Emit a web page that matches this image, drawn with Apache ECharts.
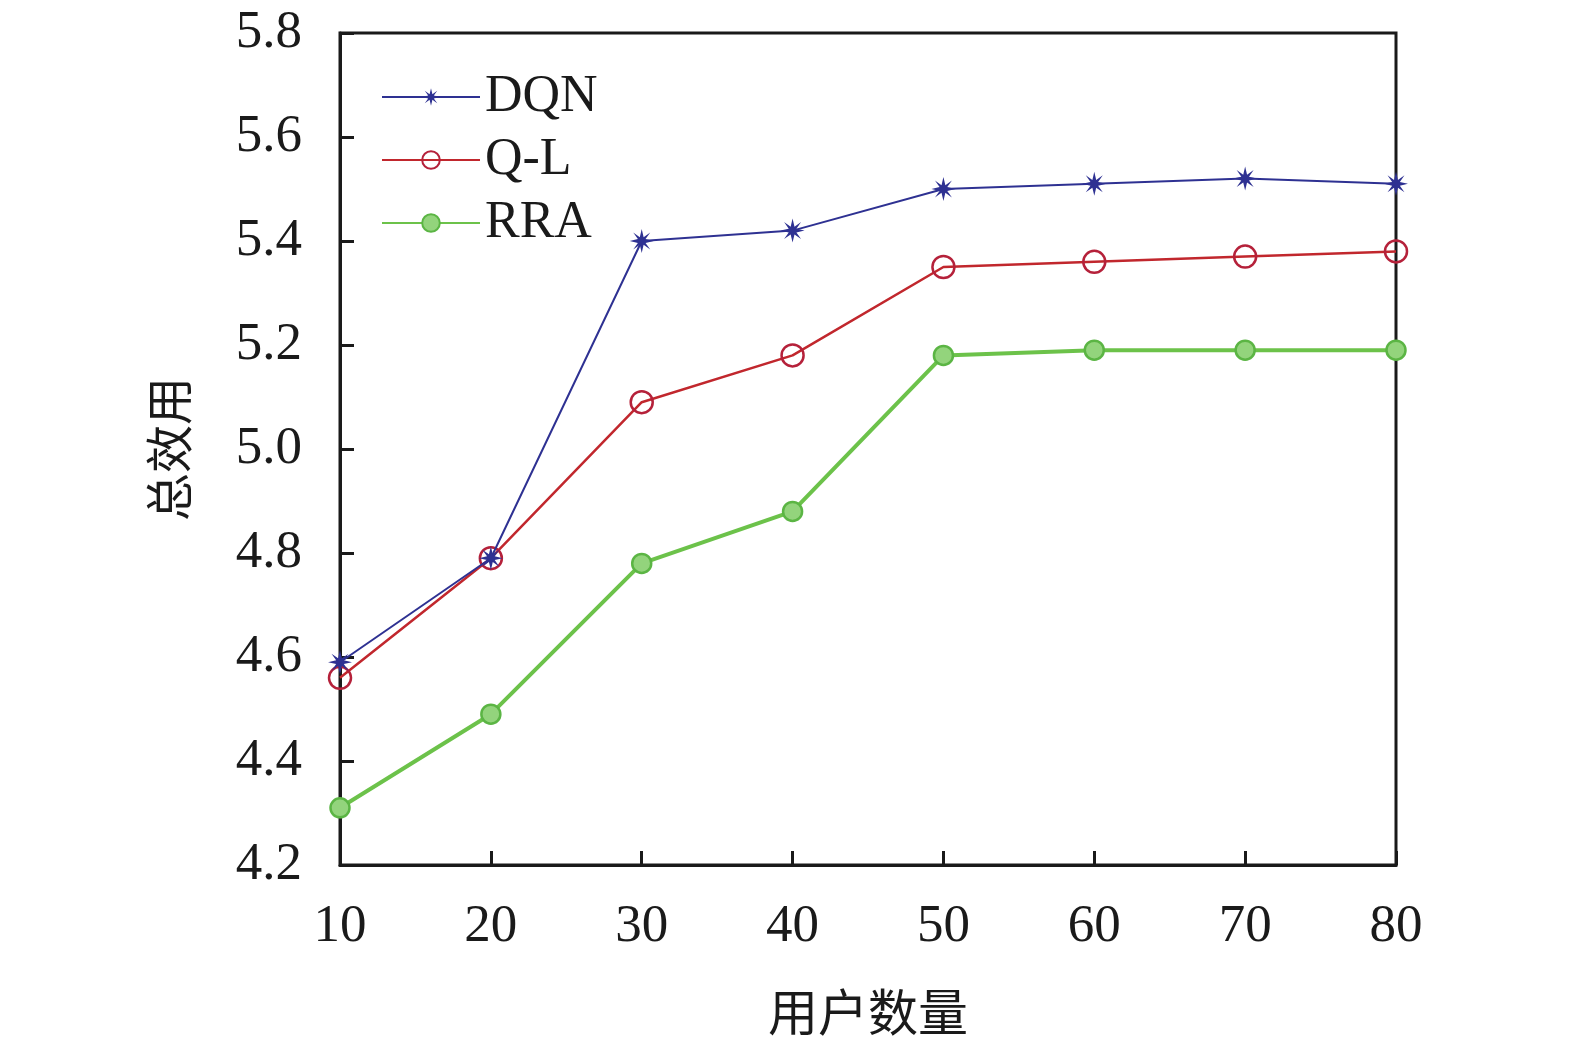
<!DOCTYPE html>
<html>
<head>
<meta charset="utf-8">
<script src="https://cdn.jsdelivr.net/npm/echarts@6/dist/echarts.min.js"></script>
<style>
  html, body { margin: 0; padding: 0; background: #fff; overflow: hidden; }
  #chart { width: 1575px; height: 1049px; }
</style>
</head>
<body>
<div id="chart"></div>
<script>
// users on x, total utility on y
var users = [10, 20, 30, 40, 50, 60, 70, 80];
var dqn = [4.59, 4.79, 5.40, 5.42, 5.50, 5.51, 5.52, 5.51];
var ql = [4.56, 4.79, 5.09, 5.18, 5.35, 5.36, 5.37, 5.38];
var rra = [4.31, 4.49, 4.78, 4.88, 5.18, 5.19, 5.19, 5.19];
var yTicks = ['4.2', '4.4', '4.6', '4.8', '5.0', '5.2', '5.4', '5.6', '5.8'];

var FONT = '"Liberation Serif", "Noto Sans CJK SC", serif';
var STAR = 'path://M100,50L66,58L85.4,85.4L58,66L50,100L42,66L14.6,85.4L34,58L0,50L34,42L14.6,14.6L42,34L50,0L58,34L85.4,14.6L66,42Z';

function pairs(vals) {
    return users.map(function (u, i) { return [u, vals[i]]; });
}

var chart = echarts.init(document.getElementById('chart'));
var option = {
    animation: false,
    backgroundColor: '#fff',
    grid: {
        left: 340, right: 179, top: 33, bottom: 184,
        outerBoundsMode: 'none',
        show: true, borderColor: '#1a1a1a', borderWidth: 3
    },
    legend: {
        left: 376, top: 66,
        orient: 'vertical',
        itemWidth: 98, itemHeight: 22, itemGap: 11,
        textStyle: { fontFamily: FONT, fontSize: 52, color: '#1a1a1a' },
        data: ['DQN', 'Q-L', 'RRA']
    },
    xAxis: {
        type: 'value', min: 10, max: 80, interval: 10,
        name: '用户数量', nameLocation: 'middle', nameGap: 128,
        nameTextStyle: { fontFamily: FONT, fontSize: 50, color: '#1a1a1a' },
        axisLine: { lineStyle: { color: '#1a1a1a', width: 3 } },
        axisTick: { inside: true, length: 14, lineStyle: { color: '#1a1a1a', width: 3 } },
        axisLabel: { fontFamily: FONT, fontSize: 53, color: '#1a1a1a', margin: 36 },
        splitLine: { show: false }
    },
    yAxis: {
        type: 'value', min: 4.2, max: 5.8, interval: 0.2,
        name: '总效用', nameLocation: 'middle', nameGap: 142, nameRotate: 90,
        nameTextStyle: { fontFamily: FONT, fontSize: 48, color: '#1a1a1a' },
        axisLine: { lineStyle: { color: '#1a1a1a', width: 3 } },
        axisTick: { inside: true, length: 14, lineStyle: { color: '#1a1a1a', width: 3 } },
        axisLabel: {
            fontFamily: FONT, fontSize: 53, color: '#1a1a1a', margin: 38,
            formatter: function (v) {
                var idx = Math.round((v - 4.2) / 0.2);
                return yTicks[idx];
            }
        },
        splitLine: { show: false }
    },
    series: [
        {
            name: 'DQN', type: 'line', data: pairs(dqn),
            symbol: STAR, symbolSize: 24,
            lineStyle: { color: '#2e3192', width: 2 },
            itemStyle: { color: '#2e3192' },
            z: 3
        },
        {
            name: 'Q-L', type: 'line', data: pairs(ql),
            symbol: 'circle', symbolSize: 22,
            lineStyle: { color: '#c1272d', width: 2.5 },
            itemStyle: { color: 'rgba(255,255,255,0)', borderColor: '#b5213a', borderWidth: 2.5 },
            z: 2
        },
        {
            name: 'RRA', type: 'line', data: pairs(rra),
            symbol: 'circle', symbolSize: 19,
            lineStyle: { color: '#6cc24a', width: 4 },
            itemStyle: { color: '#93d47c', borderColor: '#5bb544', borderWidth: 2.5 },
            z: 1
        }
    ]
};
chart.setOption(option);
</script>
</body>
</html>
